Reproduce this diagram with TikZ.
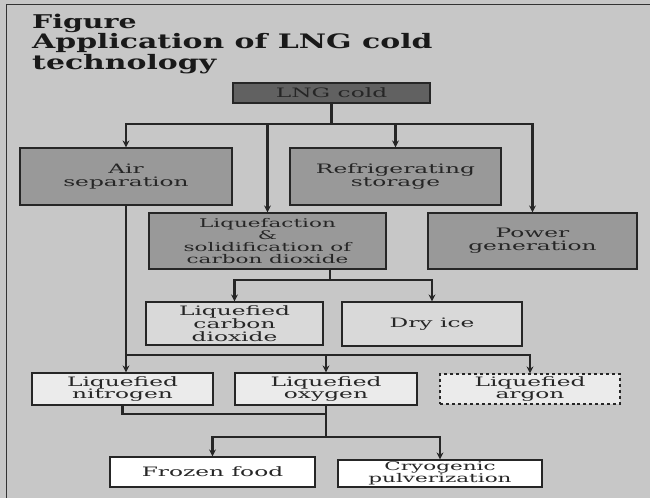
\documentclass[tikz,border=0pt]{standalone}
\usepackage{fontspec}
\newfontfamily\titlefont[FakeStretch=1.5]{DejaVu Serif}
\newfontfamily\boxfont[FakeStretch=1.8]{DejaVu Serif}
\usepackage{tikz}
\usetikzlibrary{arrows.meta}

\begin{document}
\begin{tikzpicture}[
    x=1bp,y=-1bp,>={Stealth[length=7bp,width=7bp]},
    app box/.style={draw=black!85,line width=1.2bp,inner sep=0pt,align=center,
      font=\boxfont\fontsize{13}{13}\selectfont,text=black!85},
    app arrow/.style={->,line width=2.2bp,draw=black!85},
    app line/.style={line width=2.2bp,draw=black!85},
    app title/.style={anchor=base west,inner sep=0pt,text=black!90}
  ]
    \fill[black!22] (0,0) rectangle (650,498);
    \useasboundingbox (0,0) rectangle (650,498);
    \draw[black!80,line width=1bp] (6,498) -- (6,5) -- (650,5);

    \node[app title,font=\titlefont\bfseries\fontsize{19}{19}\selectfont] (fig) at (32,29) {Figure};
    \node[app title,font=\titlefont\bfseries\fontsize{20}{20}\selectfont] (head1) at (32,49) {Application of LNG cold};
    \node[app title,font=\titlefont\bfseries\fontsize{20}{20}\selectfont] (head2) at (32,70) {technology};

    \node[app box,fill=black!62,minimum width=197bp,minimum height=20bp] (lng) at (331.5,93) {LNG cold};
    \node[app box,fill=black!40,minimum width=212bp,minimum height=57bp] (air) at (126,176.5) {Air\\separation};
    \node[app box,fill=black!40,minimum width=211bp,minimum height=57bp] (refr) at (395.5,176.5) {Refrigerating\\storage};
    \node[app box,fill=black!40,minimum width=237bp,minimum height=56bp,
      font=\boxfont\fontsize{12}{12}\selectfont] (liq) at (267.5,241) {Liquefaction\\\&\\solidification of\\carbon dioxide};
    \node[app box,fill=black!40,minimum width=209bp,minimum height=56bp] (power) at (532.5,241) {Power\\generation};
    \node[app box,fill=black!15,minimum width=177bp,minimum height=43bp] (lco2) at (234.5,323.5) {Liquefied\\carbon\\dioxide};
    \node[app box,fill=black!15,minimum width=180bp,minimum height=44bp] (dry) at (432,324) {Dry ice};
    \node[app box,fill=black!8,minimum width=181bp,minimum height=32bp] (ln2) at (122.5,389) {Liquefied\\nitrogen};
    \node[app box,fill=black!8,minimum width=182bp,minimum height=32bp] (lo2) at (326,389) {Liquefied\\oxygen};
    \node[app box,fill=black!8,dashed,minimum width=180bp,minimum height=30bp] (lar) at (530,389) {Liquefied\\argon};
    \node[app box,fill=white,minimum width=205bp,minimum height=30bp] (food) at (212.5,472) {Frozen food};
    \node[app box,fill=white,minimum width=204bp,minimum height=27bp,
      font=\boxfont\fontsize{12}{12}\selectfont] (cryo) at (440,473.5) {Cryogenic\\pulverization};

    % LNG cold to the four uses
    \coordinate (bus1) at (331.5,124);
    \draw[app line] (lng) -- (bus1);
    \draw[app arrow] (bus1) -| (air);
    \draw[app arrow] (bus1) -| (liq);
    \draw[app arrow] (bus1) -| (refr);
    \draw[app arrow] (bus1) -| (power);

    % carbon dioxide
    \coordinate (bus2) at (330,280);
    \draw[app line] (liq.south -| bus2) -- (bus2);
    \draw[app arrow] (bus2) -| (lco2);
    \draw[app arrow] (bus2) -| (dry);

    % air separation products
    \coordinate (bus3) at (126,355);
    \draw[app arrow] (air.south) -- (air.south |- ln2.north);
    \draw[app arrow] (bus3) -| (lo2);
    \draw[app arrow] (bus3) -| (lar);

    % cold from nitrogen and oxygen
    \coordinate (bus4) at (326,414);
    \coordinate (bus5) at (326,437);
    \draw[app line] (ln2.south) |- (bus4);
    \draw[app line] (lo2) -- (bus5);
    \draw[app arrow] (bus5) -| (food);
    \draw[app arrow] (bus5) -| (cryo);
  \end{tikzpicture}
\end{document}
